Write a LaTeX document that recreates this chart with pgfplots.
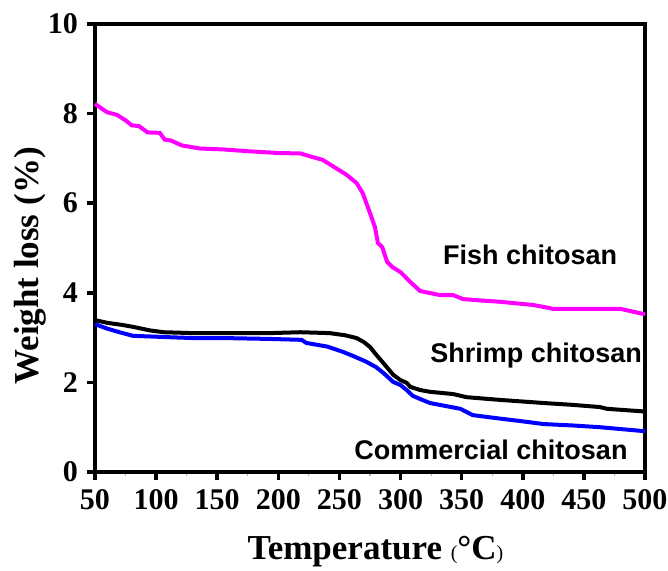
\documentclass[border=0pt]{standalone}
\usepackage{pgfplots}
\pgfplotsset{compat=1.18}
\usepackage{fontspec}
\setmainfont{Liberation Serif}
\newfontfamily\arialb{Liberation Sans}
\definecolor{fishmag}{RGB}{255,0,255}
\definecolor{combl}{RGB}{0,0,255}
\begin{document}
\begin{tikzpicture}
\begin{axis}[
  name=main,
  scale only axis,
  width=275pt, height=224pt,
  xmin=50, xmax=500, ymin=0, ymax=10,
  xtick={50,100,...,500}, ytick={0,2,...,10},
  minor xtick={75,125,...,475},
  tick pos=left,
  axis line style={line width=2.2pt},
  every major tick/.style={line width=1.8pt, black},
  major tick length=4pt,
  every minor tick/.style={line width=0.6pt, gray!60},
  minor tick length=2pt,
  xtick align=outside, ytick align=outside,
  /pgf/number format/assume math mode=true,
  /pgf/number format/1000 sep={},
  ticklabel style={font=\fontsize{15}{15}\selectfont\bfseries},
  xticklabel style={yshift=-1pt},
  yticklabel style={xshift=-1pt},
  xlabel={\fontsize{17.5}{17.5}\selectfont\bfseries Temperature {\fontsize{10}{10}\selectfont\mdseries(}°C{\fontsize{10}{10}\selectfont\mdseries)}},
  ylabel={\fontsize{17.5}{17.5}\selectfont\bfseries Weight loss (\%)},
  xlabel style={at={(rel axis cs:0.51,-0.195)}, anchor=base},
  ylabel style={at={(rel axis cs:-0.117,0.46)}, anchor=center},
  clip=false,
]
\addplot[fishmag, line width=2pt] coordinates {
(50,8.22) (55,8.12) (60,8.03) (68,7.97) (75,7.85) (80,7.74) (86,7.72) (93,7.58)
(103,7.57) (107,7.42) (112,7.40) (121,7.29) (136,7.22) (155,7.20) (175,7.16)
(200,7.12) (218,7.11) (228,7.03) (236,6.97) (245,6.82) (256,6.63) (264,6.45)
(269,6.23) (275,5.78) (279,5.47) (281.5,5.11) (285,5.02) (289,4.69) (293,4.58)
(300,4.46) (308,4.24) (316,4.04) (332,3.95) (343,3.95) (351,3.86) (365,3.83)
(381,3.80) (400,3.75) (408,3.73) (418,3.68) (425,3.64) (450,3.64) (480,3.64)
(490,3.58) (500,3.52)
};
\addplot[black, line width=2pt] coordinates {
(50,3.39) (60,3.33) (73,3.28) (81,3.24) (95,3.16) (106,3.12) (130,3.10) (155,3.10)
(193,3.10) (218,3.12) (242,3.10) (255,3.05) (264,2.99) (270,2.90) (275,2.79)
(280,2.62) (286,2.43) (290,2.30) (294,2.17) (300,2.05) (305,1.99) (308,1.90)
(316,1.83) (324,1.79) (343,1.74) (354,1.67) (381,1.61) (417,1.54) (440,1.50)
(463,1.45) (469,1.41) (500,1.35)
};
\addplot[combl, line width=2pt] coordinates {
(50,3.30) (60,3.20) (70,3.12) (81,3.04) (109,3.01) (130,2.99) (155,2.99) (193,2.97)
(219,2.95) (223,2.88) (240,2.80) (253,2.68) (262,2.58) (272,2.46) (280,2.34)
(286,2.21) (294,2.01) (300,1.94) (305,1.83) (310,1.70) (316,1.63) (324,1.54)
(349,1.41) (359,1.27) (376,1.21) (403,1.12) (417,1.07) (440,1.04) (463,1.00)
(500,0.91)
};
\node[font=\arialb\fontsize{13.5}{13.5}\selectfont\bfseries] at (axis cs:406,4.84) {Fish chitosan};
\node[font=\arialb\fontsize{13.5}{13.5}\selectfont\bfseries] at (axis cs:411,2.61) {Shrimp chitosan};
\node[font=\arialb\fontsize{13.5}{13.5}\selectfont\bfseries] at (axis cs:374,0.49) {Commercial chitosan};
\end{axis}
\pgfresetboundingbox
\path ([xshift=-47.5pt,yshift=-49.5pt]main.south west) rectangle ([xshift=11.5pt,yshift=12pt]main.north east);
\end{tikzpicture}
\end{document}
